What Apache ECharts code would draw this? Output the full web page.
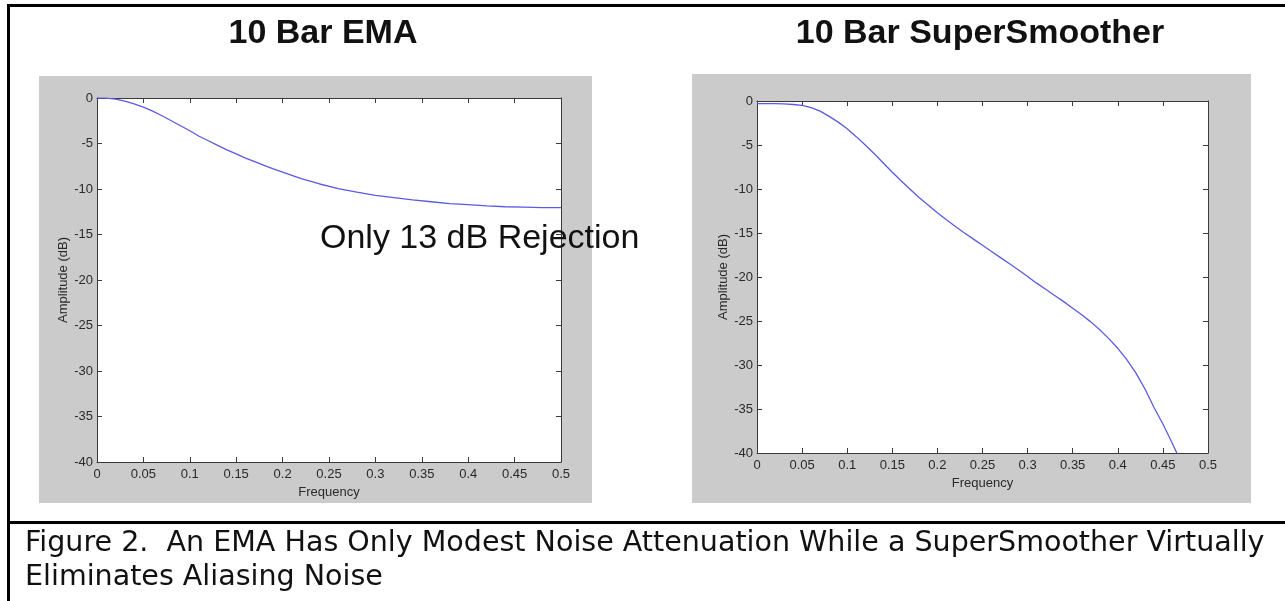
<!DOCTYPE html>
<html>
<head>
<meta charset="utf-8">
<script src="https://cdn.jsdelivr.net/npm/echarts@6/dist/echarts.min.js"></script>
<style>
html,body{margin:0;padding:0;background:#fff;}
#c{width:1285px;height:601px;}
</style>
</head>
<body>
<div id="c"></div>
<script>
// ---- data ----
const chartTitles = ['10 Bar EMA', '10 Bar SuperSmoother'];
const xAxisName = 'Frequency';
const yAxisName = 'Amplitude (dB)';
const annotationText = 'Only 13 dB Rejection';
const captionLines = [
  'Figure 2.  An EMA Has Only Modest Noise Attenuation While a SuperSmoother Virtually',
  'Eliminates Aliasing Noise'
];
const freqTickLabels = ['0','0.05','0.1','0.15','0.2','0.25','0.3','0.35','0.4','0.45','0.5'];
const ampTickLabels = ['-40','-35','-30','-25','-20','-15','-10','-5','0'];

const emaFreq = [0,0.01,0.02,0.03,0.04,0.05,0.06,0.07,0.08,0.09,0.10,0.11,0.12,0.13,0.14,0.15,0.16,0.17,0.18,0.19,0.20,0.22,0.24,0.26,0.28,0.30,0.32,0.34,0.36,0.38,0.40,0.42,0.44,0.46,0.48,0.50];
const emaDb   = [0,-0.02,-0.12,-0.35,-0.65,-1.0,-1.45,-1.95,-2.5,-3.05,-3.6,-4.2,-4.7,-5.2,-5.7,-6.15,-6.6,-7.0,-7.4,-7.8,-8.15,-8.85,-9.45,-9.95,-10.35,-10.7,-10.95,-11.2,-11.4,-11.6,-11.72,-11.85,-11.95,-12.0,-12.05,-12.05];

const ssFreq = [0,0.01,0.02,0.03,0.04,0.05,0.06,0.07,0.08,0.09,0.10,0.11,0.12,0.13,0.14,0.15,0.16,0.17,0.18,0.19,0.20,0.21,0.22,0.23,0.24,0.25,0.26,0.27,0.28,0.29,0.30,0.31,0.32,0.33,0.34,0.35,0.36,0.37,0.38,0.39,0.40,0.41,0.42,0.43,0.44,0.45,0.46,0.4654];
const ssDb   = [-0.3,-0.3,-0.3,-0.33,-0.4,-0.5,-0.75,-1.15,-1.75,-2.4,-3.15,-4.05,-5.0,-6.0,-7.05,-8.1,-9.1,-10.05,-11.0,-11.85,-12.7,-13.5,-14.25,-15.0,-15.7,-16.4,-17.1,-17.8,-18.5,-19.2,-19.95,-20.7,-21.4,-22.1,-22.8,-23.55,-24.3,-25.1,-26.0,-27.0,-28.1,-29.4,-30.9,-32.7,-34.8,-36.7,-38.8,-40];

// ---- font helpers ----
function textWidth(str, font){
  const ctx = document.createElement('canvas').getContext('2d');
  ctx.font = font;
  return ctx.measureText(str).width;
}
const axisFamily = 'Liberation Sans';
const axisSize = 13;

const capFamily = 'DejaVu Sans';
let capSize = 27.5;
const capW = textWidth(captionLines[0], capSize + "px '" + capFamily + "'");
capSize = Math.min(29, Math.max(24, capSize * 1240 / capW));

// ---- layout ----
const panels = [
  {gx: 39, gy: 76, gw: 553, gh: 427, left: 97, top: 98, width: 464, height: 364, nameGapY: 27, titleX: 323},
  {gx: 692, gy: 74, gw: 559, gh: 429, left: 757, top: 101, width: 451, height: 352, nameGapY: 24, titleX: 980}
];
const axisColor = '#3a3a3a';
const textColor = '#2a2a2a';

const grids = [], xAxes = [], yAxes = [], series = [];
panels.forEach((p, i) => {
  grids.push({left: p.left, top: p.top, width: p.width, height: p.height,
    show: true, backgroundColor: '#ffffff', borderWidth: 0, containLabel: false, outerBoundsMode: 'none'});
  const common = {
    gridIndex: i, type: 'value', min: 0, max: 0.5, interval: 0.05,
    axisLine: {show: true, onZero: false, lineStyle: {color: axisColor, width: 1}},
    axisTick: {show: true, inside: true, length: 5, lineStyle: {color: axisColor}},
    splitLine: {show: false}
  };
  xAxes.push(Object.assign({}, common, {
    position: 'bottom',
    name: xAxisName, nameLocation: 'middle', nameGap: 20,
    nameTextStyle: {color: textColor, fontFamily: axisFamily, fontSize: axisSize},
    axisLabel: {color: textColor, fontFamily: axisFamily, fontSize: axisSize, margin: 6,
      formatter: v => freqTickLabels[Math.round(v / 0.05)]}
  }));
  xAxes.push(Object.assign({}, common, {position: 'top', axisLabel: {show: false}}));
  const ycommon = {
    gridIndex: i, type: 'value', min: -40, max: 0, interval: 5,
    axisLine: {show: true, onZero: false, lineStyle: {color: axisColor, width: 1}},
    axisTick: {show: true, inside: true, length: 5, lineStyle: {color: axisColor}},
    splitLine: {show: false}
  };
  yAxes.push(Object.assign({}, ycommon, {
    position: 'left',
    name: yAxisName, nameLocation: 'middle', nameGap: p.nameGapY, nameRotate: 90,
    nameTextStyle: {color: textColor, fontFamily: axisFamily, fontSize: axisSize},
    axisLabel: {color: textColor, fontFamily: axisFamily, fontSize: axisSize, margin: 4,
      formatter: v => ampTickLabels[Math.round((v + 40) / 5)]}
  }));
  yAxes.push(Object.assign({}, ycommon, {position: 'right', axisLabel: {show: false}}));
});

series.push({
  type: 'line', xAxisIndex: 0, yAxisIndex: 0, showSymbol: false, symbol: 'none', smooth: false,
  lineStyle: {color: '#5a5ae4', width: 1.3}, data: emaFreq.map((f, k) => [f, emaDb[k]]), z: 5
});
series.push({
  type: 'line', xAxisIndex: 2, yAxisIndex: 2, showSymbol: false, symbol: 'none', smooth: false,
  lineStyle: {color: '#5a5ae4', width: 1.3}, data: ssFreq.map((f, k) => [f, ssDb[k]]), z: 5
});

const elements = [];
panels.forEach((p, i) => {
  elements.push({type: 'rect', z: -100, shape: {x: p.gx, y: p.gy, width: p.gw, height: p.gh},
    style: {fill: '#cbcbcb'}});
  elements.push({type: 'text', z: 100, x: p.titleX, y: 34,
    style: {text: chartTitles[i], fontFamily: 'Liberation Sans', fontWeight: 'bold', fontSize: 34,
      fill: '#111', align: 'center', verticalAlign: 'middle'}});
});
// frame lines
elements.push({type: 'rect', z: 100, shape: {x: 7, y: 4, width: 1278, height: 3}, style: {fill: '#000'}});
elements.push({type: 'rect', z: 100, shape: {x: 7, y: 4, width: 3, height: 597}, style: {fill: '#000'}});
elements.push({type: 'rect', z: 100, shape: {x: 7, y: 521, width: 1278, height: 3}, style: {fill: '#000'}});
// annotation
elements.push({type: 'text', z: 100, x: 320, y: 239,
  style: {text: annotationText, fontFamily: 'Liberation Sans', fontSize: 34, fill: '#111',
    align: 'left', verticalAlign: 'middle'}});
// caption
elements.push({type: 'text', z: 100, x: 25, y: 544,
  style: {text: captionLines[0], fontFamily: capFamily, fontSize: capSize, fill: '#111',
    align: 'left', verticalAlign: 'middle'}});
elements.push({type: 'text', z: 100, x: 25, y: 578,
  style: {text: captionLines[1], fontFamily: capFamily, fontSize: capSize, fill: '#111',
    align: 'left', verticalAlign: 'middle'}});

const chart = echarts.init(document.getElementById('c'), null, {renderer: 'canvas'});
chart.setOption({
  backgroundColor: '#ffffff',
  animation: false,
  grid: grids,
  xAxis: xAxes,
  yAxis: yAxes,
  series: series,
  graphic: {elements: elements}
});
</script>
</body>
</html>
